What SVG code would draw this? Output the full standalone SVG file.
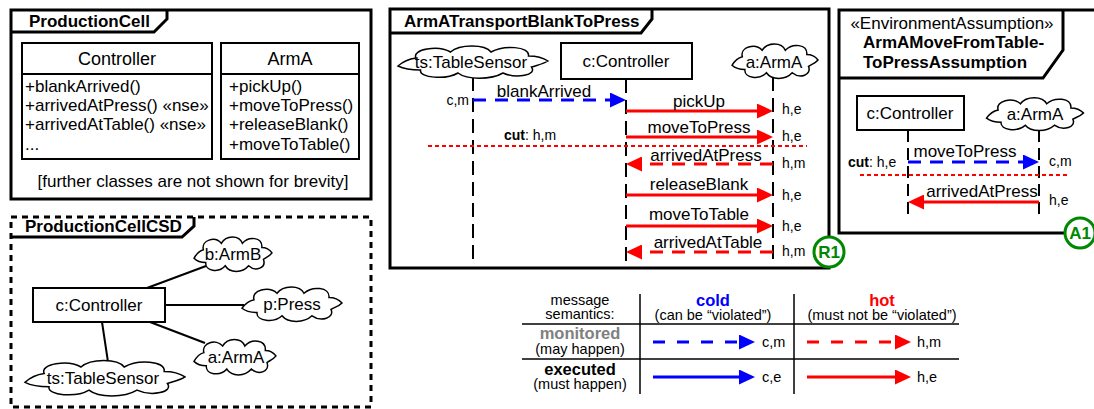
<svg xmlns="http://www.w3.org/2000/svg" xmlns:xlink="http://www.w3.org/1999/xlink" width="1094" height="409" viewBox="0 0 1094 409">
<style>
text{font-family:"Liberation Sans",Arial,Helvetica,sans-serif;font-size:17px;fill:#000}
.s{font-size:14px}
.m{font-size:14.5px}
.lb{font-size:16.5px}
.b{font-weight:bold}
.c{text-anchor:middle}
.r{text-anchor:end}
.frame{fill:none;stroke:#000;stroke-width:3}
.box{fill:#fff;stroke:#000;stroke-width:2}
.cloud{fill:#fff;stroke:#000;stroke-width:1.5}
.life{stroke:#000;stroke-width:2;stroke-dasharray:14 7;fill:none}
.hot{stroke:#f00;stroke-width:3;fill:none}
.cold{stroke:#00f;stroke-width:3;fill:none}
.dash{stroke-dasharray:13 9}
.cut{stroke:#f00;stroke-width:2;stroke-dasharray:4 3;fill:none}
.conn{stroke:#000;stroke-width:2;fill:none}
.grid{stroke:#000;stroke-width:1.5;fill:none}
.badge{fill:#fff;stroke:#008800;stroke-width:3}
.bt{fill:#008800;font-weight:bold}
</style>
<defs>
<path id="cloud" vector-effect="non-scaling-stroke" d="M -50 4 C -47 0 -43 -3 -38 -4 C -41 -13 -23 -17 -15 -10 C -9 -18 8 -18 12 -10 C 20 -17 38 -16 37 -6 C 43 -6 48 -3 50 -1 C 47 2 43 3 39 5 C 43 13 29 17 20 11 C 12 18 -4 18 -10 11 C -18 18 -36 16 -35 8 C -41 8 -46 7 -50 4 Z"/>
<marker id="ar" markerUnits="userSpaceOnUse" markerWidth="16" markerHeight="15" refX="6" refY="7.5" orient="auto"><path d="M0,0 L16,7.5 L0,15 Z" fill="#f00"/></marker>
<marker id="ab" markerUnits="userSpaceOnUse" markerWidth="16" markerHeight="15" refX="6" refY="7.5" orient="auto"><path d="M0,0 L16,7.5 L0,15 Z" fill="#00f"/></marker>
</defs>

<!-- ProductionCell -->
<g id="ProductionCell">
<rect class="frame" x="11" y="10" width="360" height="189"/>
<path class="frame" d="M11 32 H154 L167 19 V10"/>
<text class="b" x="29" y="27">ProductionCell</text>
<g id="Controller">
<rect class="box" x="22" y="43" width="190" height="116"/>
<line class="conn" x1="22" y1="74" x2="212" y2="74"/>
<text class="c" x="117" y="65" style="font-size:18px">Controller</text>
<text x="25" y="92">+blankArrived()</text>
<text x="25" y="111">+arrivedAtPress() «nse»</text>
<text x="25" y="130">+arrivedAtTable() «nse»</text>
<text x="25" y="150">...</text>
</g>
<g id="ArmA">
<rect class="box" x="221" y="43" width="138" height="116"/>
<line class="conn" x1="221" y1="74" x2="359" y2="74"/>
<text class="c" x="290" y="65" style="font-size:18px">ArmA</text>
<text x="229" y="92">+pickUp()</text>
<text x="229" y="111">+moveToPress()</text>
<text x="229" y="130">+releaseBlank()</text>
<text x="229" y="150">+moveToTable()</text>
</g>
<text class="c" x="193" y="187">[further classes are not shown for brevity]</text>
</g>

<!-- ProductionCellCSD -->
<g id="ProductionCellCSD">
<rect class="frame" x="11" y="217" width="360" height="190" style="stroke-dasharray:6 5"/>
<path class="frame" d="M11 237 H182 L194 226 V217"/>
<text class="b" x="25" y="232">ProductionCellCSD</text>
<g id="csd-connectors">
<line class="conn" x1="147" y1="288" x2="206" y2="266"/>
<line class="conn" x1="165" y1="305" x2="244" y2="305"/>
<line class="conn" x1="150" y1="322" x2="205" y2="343"/>
<line class="conn" x1="102" y1="322" x2="108" y2="362"/>
</g>
<g id="csd-c"><rect class="box" x="33" y="288" width="132" height="34"/><text class="c" x="99" y="311">c:Controller</text></g>
<g id="csd-b"><use href="#cloud" class="cloud" transform="translate(233 254) scale(0.78 1.07)"/><text class="c" x="233" y="260">b:ArmB</text></g>
<g id="csd-p"><use href="#cloud" class="cloud" transform="translate(292 304) scale(1 1.07)"/><text class="c" x="292" y="310">p:Press</text></g>
<g id="csd-a"><use href="#cloud" class="cloud" transform="translate(235 357) scale(0.82 1.1)"/><text class="c" x="236" y="363">a:ArmA</text></g>
<g id="csd-ts"><use href="#cloud" class="cloud" transform="translate(105 378) scale(1.6 1.1)"/><text class="c" x="103" y="384">ts:TableSensor</text></g>
</g>

<!-- ArmATransportBlankToPress -->
<g id="ArmATransportBlankToPress">
<rect class="frame" x="390" y="9" width="439" height="259"/>
<path class="frame" d="M390 33 H641 L652 19 V9"/>
<text class="b" x="404" y="27">ArmATransportBlankToPress</text>
<g id="seq-lifelines">
<line class="life" x1="473" y1="77" x2="473" y2="266"/>
<line class="life" x1="626" y1="79" x2="626" y2="266"/>
<line class="life" x1="773" y1="77" x2="773" y2="266"/>
</g>
<g id="seq-ts"><use href="#cloud" class="cloud" transform="translate(473 62) scale(1.5 1)"/><text class="c" x="471" y="68">ts:TableSensor</text></g>
<g id="seq-c"><rect class="box" x="561" y="43" width="131" height="36"/><text class="c" x="626" y="67">c:Controller</text></g>
<g id="seq-a"><use href="#cloud" class="cloud" transform="translate(775 61) scale(0.86 1.07)"/><text class="c" x="774" y="68">a:ArmA</text></g>
<g id="seq-messages">
<line class="cold dash" x1="473" y1="100" x2="616" y2="100" marker-end="url(#ab)"/>
<line class="hot" x1="626" y1="111" x2="763" y2="111" marker-end="url(#ar)"/>
<line class="hot" x1="626" y1="137" x2="763" y2="137" marker-end="url(#ar)"/>
<line class="cut" x1="428" y1="146" x2="807" y2="146"/>
<line class="hot dash" x1="773" y1="164" x2="636" y2="164" marker-end="url(#ar)"/>
<line class="hot" x1="626" y1="195" x2="763" y2="195" marker-end="url(#ar)"/>
<line class="hot" x1="626" y1="226" x2="763" y2="226" marker-end="url(#ar)"/>
<line class="hot dash" x1="773" y1="252" x2="636" y2="252" marker-end="url(#ar)"/>
</g>
<text class="c" x="544" y="97">blankArrived</text>
<text class="s r" x="469" y="105">c,m</text>
<text class="c" x="699" y="107">pickUp</text>
<text class="s" x="782" y="114">h,e</text>
<text class="c" x="699" y="133">moveToPress</text>
<text class="s" x="782" y="141">h,e</text>
<text class="s" x="504" y="140"><tspan class="b">cut</tspan>: h,m</text>
<text class="c" x="706" y="161">arrivedAtPress</text>
<text class="s" x="782" y="168">h,m</text>
<text class="c" x="699" y="190">releaseBlank</text>
<text class="s" x="782" y="200">h,e</text>
<text class="c" x="699" y="220">moveToTable</text>
<text class="s" x="782" y="231">h,e</text>
<text class="c" x="708" y="248">arrivedAtTable</text>
<text class="s" x="782" y="256">h,m</text>
<g id="R1"><circle class="badge" cx="829" cy="252" r="15"/><text class="bt c" x="829" y="258">R1</text></g>
</g>

<!-- ArmAMoveFromTableToPressAssumption -->
<g id="ArmAMoveFromTableToPressAssumption">
<rect class="frame" x="839" y="10" width="260" height="223"/>
<path class="frame" d="M839 78 H1043 L1063 50 V10"/>
<text class="c" x="952" y="29">«EnvironmentAssumption»</text>
<text class="b" x="863" y="48">ArmAMoveFromTable-</text>
<text class="b" x="863" y="68">ToPressAssumption</text>
<g id="env-lifelines">
<line class="life" x1="908" y1="130" x2="908" y2="217" style="stroke-dasharray:12 6"/>
<line class="life" x1="1039" y1="130" x2="1039" y2="217" style="stroke-dasharray:12 6"/>
</g>
<g id="env-c"><rect class="box" x="857" y="96" width="107" height="34"/><text class="c" x="910" y="119">c:Controller</text></g>
<g id="env-a"><use href="#cloud" class="cloud" transform="translate(1035 114) scale(0.97 1.02)"/><text class="c" x="1035" y="120">a:ArmA</text></g>
<g id="env-messages">
<line class="cold dash" x1="908" y1="162" x2="1029" y2="162" marker-end="url(#ab)"/>
<line class="cut" x1="860" y1="175" x2="1068" y2="175"/>
<line class="hot" x1="1039" y1="202" x2="918" y2="202" marker-end="url(#ar)"/>
</g>
<text class="c" x="965" y="157">moveToPress</text>
<text class="s" x="1049" y="166">c,m</text>
<text class="s" x="848" y="167"><tspan class="b">cut</tspan>: h,e</text>
<text class="c" x="982" y="197">arrivedAtPress</text>
<text class="s" x="1049" y="205">h,e</text>
<g id="A1"><circle class="badge" cx="1080" cy="233" r="15"/><text class="bt c" x="1080" y="239">A1</text></g>
</g>

<!-- Legend -->
<g id="legend">
<line class="grid" x1="640" y1="294" x2="640" y2="394"/>
<line class="grid" x1="794" y1="294" x2="794" y2="394"/>
<line class="grid" x1="522" y1="324" x2="959" y2="324"/>
<line class="grid" x1="522" y1="359" x2="959" y2="359"/>
<text class="m c" x="580" y="305">message</text>
<text class="m c" x="580" y="319">semantics:</text>
<text class="b c lb" x="713" y="306" style="fill:#00f">cold</text>
<text class="m c" x="713" y="320">(can be “violated”)</text>
<text class="b c lb" x="882" y="306" style="fill:#f00">hot</text>
<text class="m c" x="882" y="320">(must not be “violated”)</text>
<text class="b c lb" x="580" y="339" style="fill:#808080">monitored</text>
<text class="m c" x="580" y="354">(may happen)</text>
<text class="b c lb" x="580" y="375">executed</text>
<text class="m c" x="580" y="389">(must happen)</text>
<line class="cold" x1="653" y1="342" x2="745" y2="342" style="stroke-dasharray:12 12" marker-end="url(#ab)"/>
<line class="hot" x1="807" y1="342" x2="901" y2="342" style="stroke-dasharray:12 12" marker-end="url(#ar)"/>
<line class="cold" x1="653" y1="377" x2="745" y2="377" marker-end="url(#ab)"/>
<line class="hot" x1="807" y1="377" x2="901" y2="377" marker-end="url(#ar)"/>
<text class="m" x="762" y="347">c,m</text>
<text class="m" x="917" y="347">h,m</text>
<text class="m" x="762" y="382">c,e</text>
<text class="m" x="917" y="382">h,e</text>
</g>
</svg>
